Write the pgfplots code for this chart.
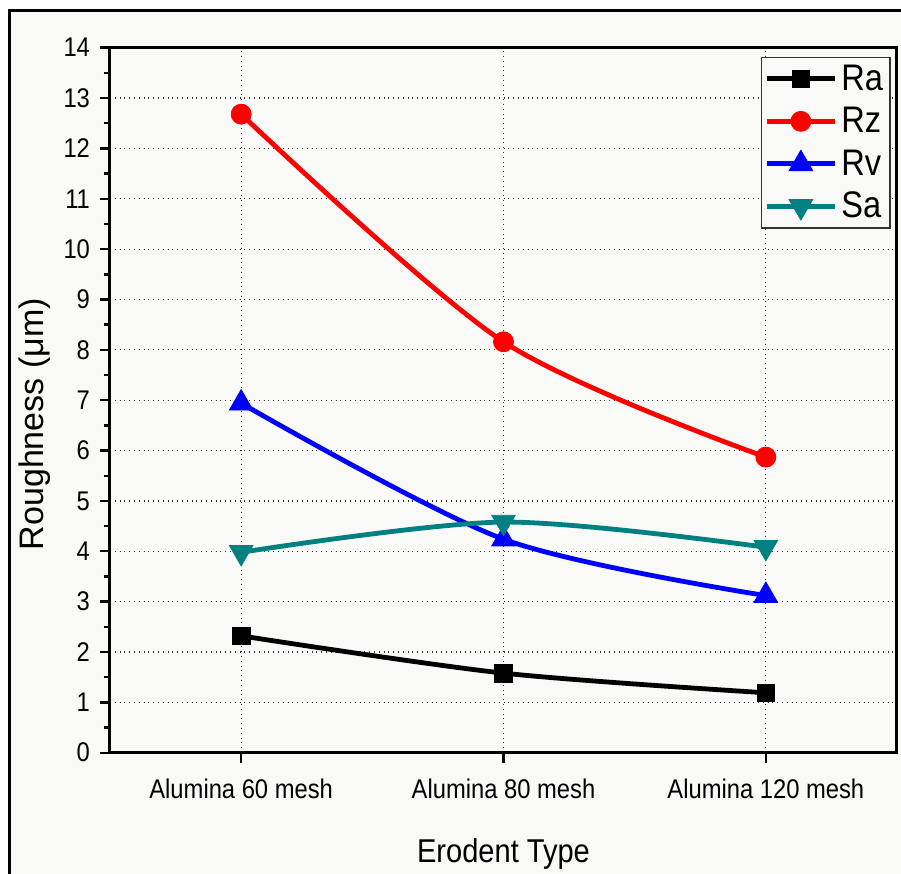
\documentclass[border=0pt]{standalone}
\usepackage{fontspec}
\setmainfont{Liberation Sans}[FakeStretch=0.88]
\newfontfamily\ylabfont{Liberation Sans}
\usepackage{pgfplots}
\pgfplotsset{compat=1.18}
\definecolor{bgc}{RGB}{249,250,248}
\definecolor{sacol}{RGB}{0,128,128}
\begin{document}
\begin{tikzpicture}
\useasboundingbox (-55pt,-60.65pt) rectangle (395.5pt,376.35pt);
\fill[white] (-55pt,-60.65pt) rectangle (395.5pt,376.35pt);
\fill[bgc] (-50pt,-70pt) rectangle (400pt,370.85pt);
\draw[line width=1.5pt] (-50pt,-70pt) -- (-50pt,370.85pt) -- (400pt,370.85pt);
\begin{axis}[
    at={(0pt,0pt)}, anchor=south west,
    scale only axis,
    width=393.5pt, height=352.5pt,
    xmin=-0.5, xmax=2.5,
    ymin=0, ymax=14,
    xtick={0,1,2},
    xticklabels={Alumina 60 mesh, Alumina 80 mesh, Alumina 120 mesh},
    ytick={0,1,...,14},
    minor y tick num=1,
    xtick pos=bottom, ytick pos=left,
    tick align=outside,
    major tick length=5pt, minor tick length=3pt,
    every tick/.style={black, line width=1.2pt},
    axis line style={line width=1.5pt},
    grid=major,
    major grid style={dotted, line width=0.6pt, black!80},
    tick label style={font=\fontsize{13.5}{16}\selectfont},
    xticklabel style={yshift=-4.5pt},
    yticklabel style={xshift=-1.5pt},
    /pgf/number format/assume math mode=true,
    xlabel={Erodent Type},
    ylabel={Roughness (μm)},
    every axis x label/.style={at={(axis description cs:0.5,0)}, anchor=center, yshift=-50.5pt, font=\fontsize{16.5}{19}\selectfont},
    every axis y label/.style={at={(axis description cs:0,0.466)}, anchor=center, rotate=90, yshift=37.5pt, font=\ylabfont\fontsize{17}{19}\selectfont},
    legend style={at={(0.992,0.987)}, anchor=north east, draw=black!80, line width=0.8pt,
        fill=bgc, font=\fontsize{18.5}{21}\selectfont, row sep=3pt,
        inner sep=1.5pt},
    legend cell align={left},
    legend image code/.code={
        \draw[mark repeat=2, mark phase=2] plot coordinates {(0pt,0pt) (17pt,0pt) (34pt,0pt)};
    },
    every axis plot/.append style={line width=2.4pt, smooth},
]

% Ra
\addplot[black, mark=square*, mark options={solid, line width=0.4pt, mark size=4.4pt}]
coordinates {(0,2.32) (1,1.58) (2,1.19)};
\addlegendentry{Ra}

% Rz
\addplot[red, mark=*, mark options={solid, line width=0.4pt, mark size=5pt}]
coordinates {(0,12.68) (1,8.16) (2,5.87)};
\addlegendentry{Rz}

% Rv
\addplot[blue, mark=triangle*, mark options={solid, line width=0.4pt, mark size=6.8pt}]
coordinates {(0,6.94) (1,4.24) (2,3.12)};
\addlegendentry{Rv}

% Sa
\addplot[sacol, mark=triangle*, mark options={solid, line width=0.4pt, mark size=6.8pt, rotate=180}]
coordinates {(0,3.98) (1,4.58) (2,4.08)};
\addlegendentry{Sa}

\end{axis}
\end{tikzpicture}
\end{document}
